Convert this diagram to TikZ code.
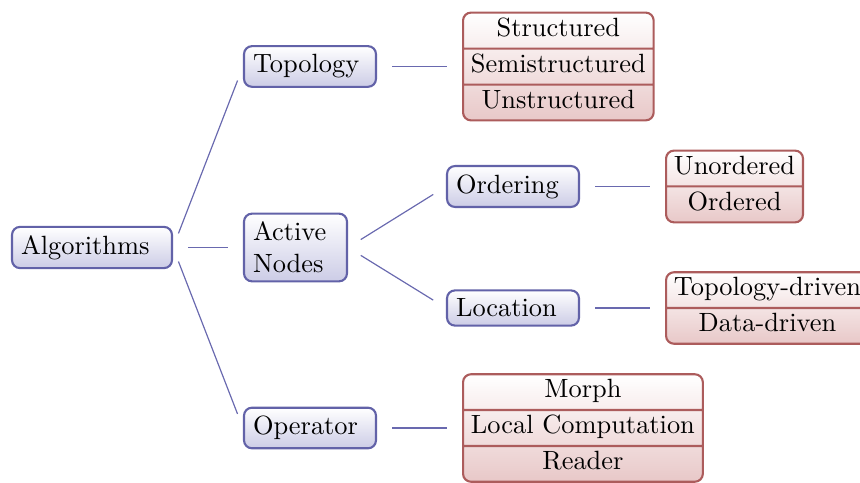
\documentclass[tikz,border=0pt]{standalone}
\usetikzlibrary{shapes.multipart}
\definecolor{bborder}{RGB}{98,98,168}
\definecolor{bfill}{RGB}{204,204,230}
\definecolor{rborder}{RGB}{172,92,92}
\definecolor{rfill}{RGB}{232,200,200}
\definecolor{lineblue}{RGB}{105,105,175}
\newcommand\ps{\rule[-2.6pt]{0pt}{8.6pt}}
\tikzset{
  bnode/.style={draw=bborder, line width=0.8pt, rounded corners=3pt,
    top color=white, bottom color=bfill, inner xsep=3.4pt, inner ysep=3.2pt,
    align=left},
  rnode/.style={rectangle split, rectangle split parts=#1, draw=rborder,
    line width=0.8pt, rounded corners=3pt, top color=white, bottom color=rfill,
    inner xsep=3pt, inner ysep=1.6pt, anchor=west, rectangle split part align=center},
  conn/.style={draw=lineblue, line width=0.45pt, shorten <=5.7pt, shorten >=5.7pt}
}
\begin{document}
\begin{tikzpicture}[x=0.379pt, y=-0.379pt]
\useasboundingbox (0,0) rectangle (860,483);
\clip (0,0) rectangle (860,483);
\node[bnode, text width=53.8pt] (alg) at (92,247.5) {Algorithms};
\node[bnode, text width=43.2pt] (topo) at (310,66.5) {Topology};
\node[bnode, text width=32.2pt] (act) at (295.5,247.5) {Active\\Nodes};
\node[bnode, text width=43.2pt] (oper) at (310,428) {Operator};
\node[bnode, text width=43.2pt] (ord) at (513,186.5) {Ordering};
\node[bnode, text width=43.2pt] (loc) at (513,308) {Location};
\node[rnode=3] (topoM) at (462,66.5) {\ps Structured\nodepart{two}\ps Semistructured\nodepart{three}\ps Unstructured};
\node[rnode=2] (ordM) at (665,186.5) {\ps Unordered\nodepart{two}\ps Ordered};
\node[rnode=2] (locM) at (665,308) {\ps Topology-driven\nodepart{two}\ps Data-driven};
\node[rnode=3] (operM) at (462,428) {\ps Morph\nodepart{two}\ps Local Computation\nodepart{three}\ps Reader};
\draw[conn] (alg.east) -- (topo.west);
\draw[conn] (alg.east) -- (act.west);
\draw[conn] (alg.east) -- (oper.west);
\draw[conn] (act.east) -- (ord.west);
\draw[conn] (act.east) -- (loc.west);
\draw[conn] (topo.east) -- (topoM.west);
\draw[conn] (ord.east) -- (ordM.west);
\draw[conn] (loc.east) -- (locM.west);
\draw[conn] (oper.east) -- (operM.west);
\end{tikzpicture}
\end{document}
